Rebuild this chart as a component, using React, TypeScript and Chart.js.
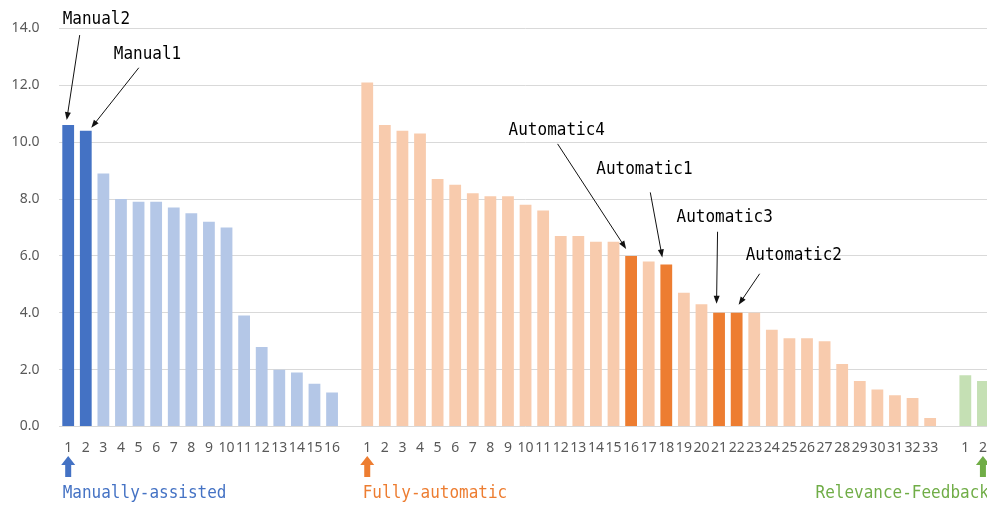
import React, { useEffect, useRef } from "react";
import { Chart, registerables } from "chart.js";

Chart.register(...registerables);

// ---------- data ----------
const manualLabels = ["1", "2", "3", "4", "5", "6", "7", "8", "9", "10", "11", "12", "13", "14", "15", "16"];
const manualValues = [10.6, 10.4, 8.9, 8.0, 7.9, 7.9, 7.7, 7.5, 7.2, 7.0, 3.9, 2.8, 2.0, 1.9, 1.5, 1.2];
const manualHighlight = [1, 2];

const autoLabels = [
  "1", "2", "3", "4", "5", "6", "7", "8", "9", "10", "11", "12", "13", "14", "15", "16", "17",
  "18", "19", "20", "21", "22", "23", "24", "25", "26", "27", "28", "29", "30", "31", "32", "33",
];
const autoValues = [
  12.1, 10.6, 10.4, 10.3, 8.7, 8.5, 8.2, 8.1, 8.1, 7.8, 7.6, 6.7, 6.7, 6.5, 6.5, 6.0, 5.8,
  5.7, 4.7, 4.3, 4.0, 4.0, 4.0, 3.4, 3.1, 3.1, 3.0, 2.2, 1.6, 1.3, 1.1, 1.0, 0.3,
];
const autoHighlight = [16, 18, 21, 22];

const rfLabels = ["1", "2"];
const rfValues = [1.8, 1.6];
const rfHighlight: number[] = [];

const groupNames = ["Manually-assisted", "Fully-automatic", "Relevance-Feedback"];
const groupMarkerBar = [1, 1, 2];

const yTickValues = [0, 2, 4, 6, 8, 10, 12, 14];

const annotationTexts = ["Manual2", "Manual1", "Automatic4", "Automatic1", "Automatic3", "Automatic2"];
const annotationGroup = [0, 0, 1, 1, 1, 1];
const annotationBar = [1, 2, 16, 18, 21, 22];

// ---------- styles / layout ----------
const groupStyles = [
  { light: "#B4C7E7", dark: "#4472C4", text: "#4472C4" },
  { light: "#F8CBAD", dark: "#ED7D31", text: "#ED7D31" },
  { light: "#C5E0B4", dark: "#70AD47", text: "#70AD47" },
];
// offsets relative to bar top-centre: tip, tail, label (left, middle)
const annotationLayout = [
  { tip: [-1.5, -5], tail: [11.5, -90], label: [-5.5, -106] },
  { tip: [5.5, -3], tail: [53, -63], label: [28, -77] },
  { tip: [-5, -7], tail: [-73.5, -112], label: [-122.5, -126] },
  { tip: [-4, -7], tail: [-16, -72], label: [-70, -95] },
  { tip: [-2.5, -9], tail: [-1.5, -81], label: [-42.5, -96] },
  { tip: [2, -8], tail: [23, -39], label: [9, -58] },
];
const groupTextAlign: CanvasTextAlign[] = ["left", "left", "right"];
const groupTextDx = [-5.5, -4.5, 6];

const MONO = '16px "DejaVu Sans Mono", "Liberation Mono", monospace';

function lineArrow(ctx: CanvasRenderingContext2D, x1: number, y1: number, x2: number, y2: number) {
  const a = Math.atan2(y2 - y1, x2 - x1);
  const L = 8, W = 3;
  ctx.strokeStyle = "#111";
  ctx.fillStyle = "#111";
  ctx.lineWidth = 1;
  ctx.beginPath();
  ctx.moveTo(x1, y1);
  ctx.lineTo(x2 - L * 0.7 * Math.cos(a), y2 - L * 0.7 * Math.sin(a));
  ctx.stroke();
  ctx.beginPath();
  ctx.moveTo(x2, y2);
  ctx.lineTo(x2 - L * Math.cos(a) + W * Math.sin(a), y2 - L * Math.sin(a) - W * Math.cos(a));
  ctx.lineTo(x2 - L * Math.cos(a) - W * Math.sin(a), y2 - L * Math.sin(a) + W * Math.cos(a));
  ctx.closePath();
  ctx.fill();
}

function monoText(ctx: CanvasRenderingContext2D, text: string, x: number, y: number, color: string, align: CanvasTextAlign) {
  ctx.save();
  ctx.font = MONO;
  ctx.fillStyle = color;
  ctx.textAlign = align;
  ctx.textBaseline = "middle";
  ctx.translate(x, y);
  ctx.scale(1, 1.15);
  ctx.fillText(text, 0, 0);
  ctx.restore();
}

export default function App() {
  const ref = useRef<HTMLCanvasElement | null>(null);

  useEffect(() => {
    if (!ref.current) return;
    const groups = [
      { labels: manualLabels, values: manualValues, hl: manualHighlight },
      { labels: autoLabels, values: autoValues, hl: autoHighlight },
      { labels: rfLabels, values: rfValues, hl: rfHighlight },
    ];
    const labels: string[] = [];
    const starts: number[] = [];
    groups.forEach((g, gi) => {
      if (gi > 0) labels.push("");
      starts.push(labels.length);
      labels.push(...g.labels);
    });
    const datasets = groups.map((g, gi) => {
      const data: (number | null)[] = labels.map(() => null);
      const colors: string[] = labels.map(() => groupStyles[gi].light);
      g.values.forEach((v, i) => {
        data[starts[gi] + i] = v;
        colors[starts[gi] + i] = g.hl.includes(i + 1) ? groupStyles[gi].dark : groupStyles[gi].light;
      });
      return {
        label: groupNames[gi],
        data,
        backgroundColor: colors,
        borderWidth: 0,
        barPercentage: 0.67,
        categoryPercentage: 1,
        grouped: false,
      };
    });

    const overlay = {
      id: "overlay",
      afterDraw(chart: any) {
        const ctx: CanvasRenderingContext2D = chart.ctx;
        const area = chart.chartArea;
        // annotations
        annotationTexts.forEach((t, k) => {
          const gi = annotationGroup[k];
          const el = chart.getDatasetMeta(gi).data[starts[gi] + annotationBar[k] - 1];
          const bx = el.x, by = el.y;
          const L = annotationLayout[k];
          lineArrow(ctx, bx + L.tail[0], by + L.tail[1], bx + L.tip[0], by + L.tip[1]);
          monoText(ctx, t, bx + L.label[0], by + L.label[1], "#000", "left");
        });
        // group markers
        groupNames.forEach((name, gi) => {
          const el = chart.getDatasetMeta(gi).data[starts[gi] + groupMarkerBar[gi] - 1];
          const cx = el.x;
          const b = area.bottom;
          ctx.save();
          ctx.fillStyle = groupStyles[gi].dark;
          ctx.beginPath();
          ctx.moveTo(cx, b + 29.5);
          ctx.lineTo(cx + 7, b + 38.5);
          ctx.lineTo(cx + 3, b + 38.5);
          ctx.lineTo(cx + 3, b + 50.5);
          ctx.lineTo(cx - 3, b + 50.5);
          ctx.lineTo(cx - 3, b + 38.5);
          ctx.lineTo(cx - 7, b + 38.5);
          ctx.closePath();
          ctx.fill();
          ctx.restore();
          monoText(ctx, name, cx + groupTextDx[gi], b + 66.5, groupStyles[gi].text, groupTextAlign[gi]);
        });
      },
    };

    const chart = new Chart(ref.current, {
      type: "bar",
      data: { labels, datasets },
      options: {
        responsive: false,
        animation: false,
        layout: { padding: { top: 26.5, right: 8, left: 0, bottom: 0 } },
        plugins: { legend: { display: false }, tooltip: { enabled: false } },
        scales: {
          x: {
            grid: { display: false, drawTicks: false },
            border: { display: false },
            ticks: {
              autoSkip: false,
              maxRotation: 0,
              minRotation: 0,
              padding: 13,
              color: "#595959",
              font: { family: '"Noto Sans", sans-serif', size: 14 },
            },
            afterFit: (s: any) => {
              s.height = 78.5;
            },
          },
          y: {
            min: 0,
            max: 14,
            afterBuildTicks: (s: any) => {
              s.ticks = yTickValues.map((v) => ({ value: v }));
            },
            ticks: {
              padding: 20,
              color: "#595959",
              font: { family: '"Noto Sans", sans-serif', size: 14 },
              callback: (v: any) => Number(v).toFixed(1),
            },
            grid: { color: "#D9D9D9", drawTicks: false, lineWidth: 1 },
            border: { display: false },
            afterFit: (s: any) => {
              s.width = 59.4;
            },
          },
        },
      },
      plugins: [overlay],
    } as any);
    return () => chart.destroy();
  }, []);

  return (
    <div style={{ position: "absolute", left: 0, top: 0, width: 987, height: 505, overflow: "hidden", background: "#fff" }}>
      <canvas ref={ref} width={1000} height={505} style={{ display: "block", width: 1000, height: 505 }} />
    </div>
  );
}
